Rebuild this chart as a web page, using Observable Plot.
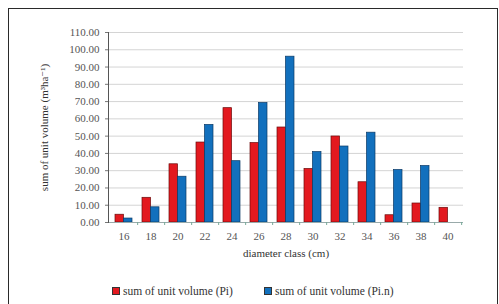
<!DOCTYPE html>
<html>
<head>
<meta charset="utf-8">
<script src="https://cdn.jsdelivr.net/npm/d3@7"></script>
<script src="https://cdn.jsdelivr.net/npm/@observablehq/plot@0.6"></script>
<style>
  html, body { margin: 0; padding: 0; background: #fff; }
  body { width: 499px; height: 304px; overflow: hidden; position: relative; font-family: "Liberation Serif", "Times New Roman", Times, "DejaVu Serif", serif; }
  #frame { position: absolute; left: 8px; top: 8px; width: 488px; height: 320px; border: 1.5px solid #2a2a2a; box-sizing: content-box; }
  #chart { position: absolute; left: 0; top: 0; }
  #legend { position: absolute; top: 285px; left: 0; width: 499px; font-size: 11.5px; color: #333; }
  .item { position: absolute; display: flex; align-items: center; white-space: nowrap; }
  .sw { width: 6px; height: 6px; margin-right: 3px; border: 0.5px solid #333; }
  svg text { font-family: "Liberation Serif", "Times New Roman", Times, "DejaVu Serif", serif !important; }
</style>
</head>
<body>
<div id="frame"></div>
<div id="chart"></div>
<div id="legend"></div>
<script>
const diameters = ["16","18","20","22","24","26","28","30","32","34","36","38","40"];
const seriesNames = ["sum of unit volume (Pi)", "sum of unit volume (Pi.n)"];
const valuesPi  = [4.5, 14.3, 33.7, 46.3, 66.2, 46.0, 55.0, 31.0, 49.8, 23.3, 4.2, 11.0, 8.5];
const valuesPin = [2.3, 8.8, 26.5, 56.5, 35.5, 69.2, 96.0, 40.8, 44.0, 52.0, 30.4, 32.7, 0];
const yTicks = [0,10,20,30,40,50,60,70,80,90,100,110];
const colors = ["#e3191f", "#1270bd"];
const strokes = ["#6a0b0b", "#0c3a66"];

const rows = [];
diameters.forEach((d, i) => {
  rows.push({diameter: d, series: seriesNames[0], value: valuesPi[i]});
  rows.push({diameter: d, series: seriesNames[1], value: valuesPin[i]});
});

const W = 499, H = 265, mL = 108, mR = 36, mT = 32, mB = 43;
const pIn = 0.38, pOut = 0.19;
const step = (W - mL - mR) / (diameters.length - pIn + 2 * pOut);
const half = step * (1 - pIn) / 2;
const FONT = "'Liberation Serif', 'Times New Roman', Times, 'DejaVu Serif', serif";

const chart = Plot.plot({
  width: W, height: H,
  marginLeft: mL, marginRight: mR, marginTop: mT, marginBottom: mB,
  style: {fontFamily: FONT, background: "transparent"},
  x: {domain: diameters, paddingInner: pIn, paddingOuter: pOut},
  y: {domain: [0, 110]},
  marks: [
    Plot.gridY(yTicks.slice(1), {stroke: "#d4d4d4", strokeOpacity: 1, strokeWidth: 1}),
    Plot.barY(rows.filter(r => r.series === seriesNames[0]), {x: "diameter", y: "value", fill: colors[0], stroke: strokes[0], strokeWidth: 0.7, insetRight: half}),
    Plot.barY(rows.filter(r => r.series === seriesNames[1] && r.value > 0), {x: "diameter", y: "value", fill: colors[1], stroke: strokes[1], strokeWidth: 0.7, insetLeft: half}),
    Plot.ruleY([0], {stroke: "#9aa", strokeWidth: 1}),
    Plot.frame({anchor: "left", stroke: "#555", strokeWidth: 1}),
    Plot.axisY({ticks: yTicks, tickFormat: d3.format(".2f"), tickSize: 3, tickPadding: 6, fontSize: 11, color: "#555", stroke: "#777",
      label: "sum of unit volume (m\u00B3ha\u207B\u00B9)", labelAnchor: "center", labelArrow: false, labelOffset: 68}),
    Plot.axisX({tickSize: 3, dx: step / 2, text: null, stroke: "#7a9", label: null}),
    Plot.axisX({tickSize: 0, tickPadding: 10, fontSize: 11, color: "#555",
      label: "diameter class (cm)", labelAnchor: "center", labelArrow: false, labelOffset: 34})
  ]
});
chart.querySelectorAll("g[aria-label='y-axis label'] text, g[aria-label='x-axis label'] text").forEach(t => { t.setAttribute("fill", "#333"); t.style.fontSize = "11px"; });
document.getElementById("chart").appendChild(chart);

const legend = document.getElementById("legend");
const lx = [112, 264];
seriesNames.forEach((s, i) => {
  const it = document.createElement("div");
  it.className = "item";
  it.style.left = lx[i] + "px";
  const sw = document.createElement("span");
  sw.className = "sw";
  sw.style.background = colors[i];
  const tx = document.createElement("span");
  tx.textContent = s;
  it.appendChild(sw); it.appendChild(tx);
  legend.appendChild(it);
});
</script>
</body>
</html>
